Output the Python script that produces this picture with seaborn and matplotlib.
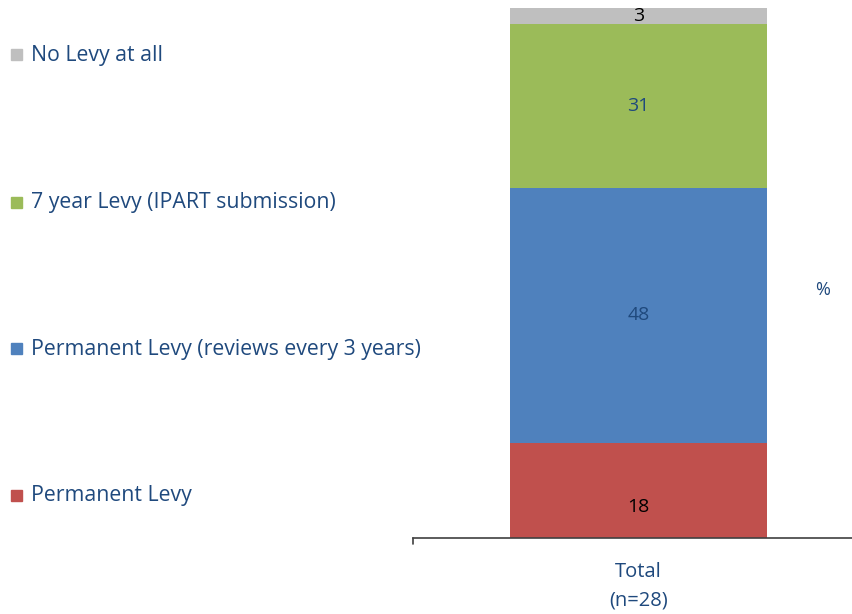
import numpy as np
import pandas as pd
import seaborn as sns
import matplotlib.pyplot as plt
from matplotlib.patches import Rectangle

categories = ['Permanent Levy', 'Permanent Levy (reviews every 3 years)',
              '7 year Levy (IPART submission)', 'No Levy at all']
values = [18, 48, 31, 3]
colors = ['#C0504D', '#4F81BD', '#9BBB59', '#BFBFBF']
label_colors = ['black', '#1F497D', '#1F497D', 'black']
label_frac = [0.33, 0.5, 0.5, 0.5]  # where inside each segment the number sits
x_label = 'Total\n(n=28)'
legend_y = [496, 349, 203, 55]  # pixel rows of the legend entries

sns.set_style('white')
plt.rcParams['font.family'] = ['Open Sans', 'DejaVu Sans']

W, H = 853, 614
fig = plt.figure(figsize=(W / 100, H / 100), dpi=100)
ax = fig.add_axes([413 / W, (H - 538) / H, 1 - 413 / W, 530 / H])

# stacked bar: draw cumulative totals from the top segment down
cum = np.cumsum(values)
for i in reversed(range(len(values))):
    df = pd.DataFrame({'group': [x_label], 'value': [cum[i]]})
    sns.barplot(data=df, x='group', y='value', color=colors[i],
                saturation=1, width=0.584, ax=ax, linewidth=0)

bottoms = cum - np.array(values)
for v, b, c, f in zip(values, bottoms, label_colors, label_frac):
    ax.text(0, b + v * f, str(v), ha='center', va='center',
            fontsize=14, color=c)

ax.set_ylim(0, 100)
ax.set_xlim(-0.5125, 0.4875)
ax.set_yticks([])
ax.set_xlabel('')
ax.set_ylabel('')
for s in ['top', 'right', 'left']:
    ax.spines[s].set_visible(False)
ax.spines['bottom'].set_color('#404040')
ax.spines['bottom'].set_linewidth(1.2)
ax.tick_params(axis='x', length=0, pad=17, labelsize=14.5, labelcolor='#1F497D')
for t in ax.get_xticklabels():
    t.set_linespacing(1.6)
ax.plot([0, 0], [0, -0.012], transform=ax.transAxes, color='#404040',
        lw=1.2, clip_on=False)

fig.text(823 / W, 1 - 290 / H, '%', ha='center', va='center',
         fontsize=13, color='#1F497D')

for cat, col, y in zip(categories, colors, legend_y):
    fig.patches.append(Rectangle((11 / W, 1 - (y + 5) / H), 11 / W, 11 / H,
                                 transform=fig.transFigure, color=col))
    fig.text(31 / W, 1 - y / H, cat, ha='left', va='center',
             fontsize=15.3, color='#1F497D')

fig.savefig('out.png', dpi=100)
